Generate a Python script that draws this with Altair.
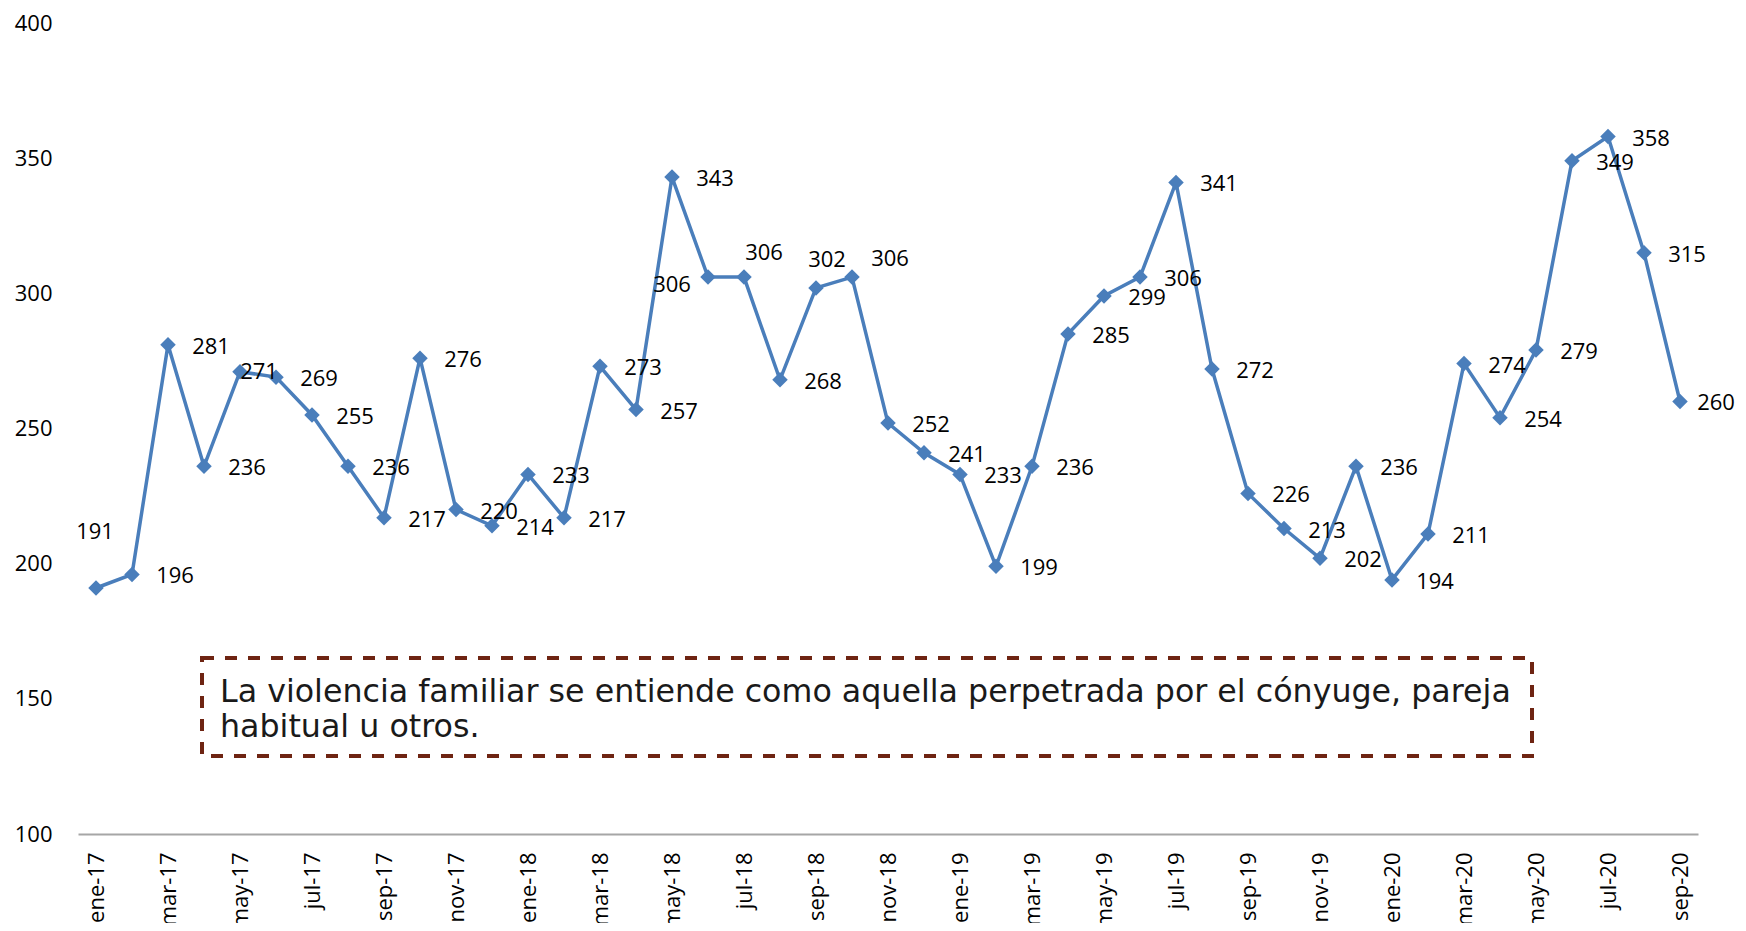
import altair as alt
import pandas as pd

months = [
    "ene-17", "feb-17", "mar-17", "abr-17", "may-17", "jun-17", "jul-17", "ago-17", "sep-17", "oct-17", "nov-17", "dic-17",
    "ene-18", "feb-18", "mar-18", "abr-18", "may-18", "jun-18", "jul-18", "ago-18", "sep-18", "oct-18", "nov-18", "dic-18",
    "ene-19", "feb-19", "mar-19", "abr-19", "may-19", "jun-19", "jul-19", "ago-19", "sep-19", "oct-19", "nov-19", "dic-19",
    "ene-20", "feb-20", "mar-20", "abr-20", "may-20", "jun-20", "jul-20", "ago-20", "sep-20",
]
values = [
    191, 196, 281, 236, 271, 269, 255, 236, 217, 276, 220, 214,
    233, 217, 273, 257, 343, 306, 306, 268, 302, 306, 252, 241,
    233, 199, 236, 285, 299, 306, 341, 272, 226, 213, 202, 236,
    194, 211, 274, 254, 279, 349, 358, 315, 260,
]
y_ticks = [100, 150, 200, 250, 300, 350, 400]
x_tick_labels = months[::2]

note_lines = [
    "La violencia familiar se entiende como aquella perpetrada por el cónyuge, pareja",
    "habitual u otros.",
]

# label placement (style): default to the right of the point, a few exceptions
placement_offsets = {
    "right": (43, 2),
    "edge": (36, 2),
    "above": (-1, -56),
    "near": (19, 0),
    "left": (-36, 8),
    "upright": (20, -24),
    "up": (11, -28),
    "upright2": (38, -18),
}
placement_of = {
    "ene-17": "above",
    "may-17": "near",
    "jun-18": "left",
    "jul-18": "upright",
    "sep-18": "up",
    "oct-18": "upright2",
    "sep-20": "edge",
}

df = pd.DataFrame({"mes": months, "casos": values})
df["pos"] = [placement_of.get(m, "right") for m in months]

LINE = "#4A7EBB"
FONT = "Open Sans"

x_enc = alt.X(
    "mes:O",
    sort=months,
    scale=alt.Scale(type="point", padding=0.5),
    axis=alt.Axis(
        values=x_tick_labels,
        labelAngle=270,
        labelFontSize=22,
        labelFont=FONT,
        labelColor="#000000",
        labelPadding=18,
        ticks=False,
        domainColor="#A6A6A6",
        domainWidth=2,
        grid=False,
        title=None,
    ),
)
y_enc = alt.Y(
    "casos:Q",
    scale=alt.Scale(domain=[100, 400], nice=False, zero=False),
    axis=alt.Axis(
        values=y_ticks,
        labelFontSize=22,
        labelFont=FONT,
        labelColor="#000000",
        labelPadding=26,
        ticks=False,
        domain=False,
        grid=False,
        title=None,
    ),
)

base = alt.Chart(df)

line = base.mark_line(color=LINE, strokeWidth=3.5).encode(x=x_enc, y=y_enc)
points = base.mark_point(
    shape="diamond", filled=True, color=LINE, size=240, opacity=1
).encode(x=x_enc, y=y_enc)

label_layers = []
for name, (dx, dy) in placement_offsets.items():
    label_layers.append(
        base.transform_filter(alt.datum.pos == name)
        .mark_text(
            dx=dx, dy=dy, align="center", baseline="middle",
            font=FONT, fontSize=22, color="#000000",
        )
        .encode(x=x_enc, y=y_enc, text="casos:Q")
    )

one = pd.DataFrame({"k": [0]})
box = alt.Chart(one).mark_rect(
    fill=None, stroke="#6E2412", strokeWidth=4, strokeDash=[12, 11]
).encode(
    x=alt.value(124), x2=alt.value(1454), y=alt.value(635), y2=alt.value(733)
)
note = alt.Chart(one).mark_text(
    align="left", baseline="alphabetic", font="DejaVu Sans", fontSize=31.7,
    lineHeight=35, color="#1A1A1A",
).encode(x=alt.value(142), y=alt.value(679), text=alt.value(note_lines))

chart = (
    alt.layer(line, points, *label_layers, box, note)
    .properties(
        width=1620,
        height=811,
        autosize=alt.AutoSizeParams(type="none"),
        padding={"left": 70, "top": 15, "right": 40, "bottom": 89},
        background="#FFFFFF",
    )
    .configure_view(stroke=None)
)

chart.save("out.html", embed_options={"renderer": "svg", "actions": False})
